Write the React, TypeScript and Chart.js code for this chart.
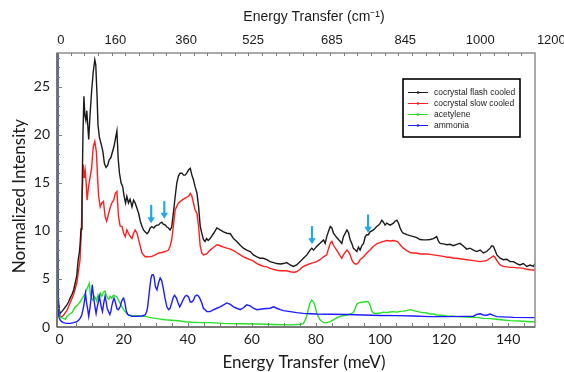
import React, { useEffect, useRef } from 'react';
import { Chart, registerables } from 'chart.js';

Chart.register(...registerables);

const seriesLabels = ['cocrystal flash cooled', 'cocrystal slow cooled', 'acetylene', 'ammonia'];
const seriesColors = ['#1a1a1a', '#ff1f1f', '#27e027', '#1c1cff'];

// [energy transfer (meV), normalized intensity]
const flashCooled: [number, number][] = [
  [-0.75, 29], [-0.6, 8], [-0.4, 3], [-0.1, 1.8], [0.2, 1.43], [0.7, 1.6], [1.2, 1.8], [1.8, 2.1], [2.3, 2.3], [2.8, 2.6],
  [3.3, 3.0], [3.9, 3.4], [4.4, 3.85], [4.9, 4.6], [5.4, 5.4], [5.7, 6.6], [5.9, 7.2], [6.2, 7.8], [6.4, 8.6], [6.7, 10.2],
  [7.0, 13], [7.3, 20], [7.6, 24], [7.9, 22], [8.2, 21.5], [8.5, 22.5], [8.8, 21], [9.1, 19.5], [9.5, 22], [10.0, 24.5],
  [10.5, 26.5], [11.0, 27.8], [11.3, 27.3], [11.7, 24], [12.0, 21], [12.4, 19.8], [13.0, 19], [13.5, 18.3], [14.0, 17], [14.5, 16.6],
  [15.0, 16.8], [15.5, 17.4], [16.0, 17.6], [16.5, 18.2], [17.0, 18.8], [17.5, 19.7], [17.9, 20.4], [18.3, 17.5], [18.7, 16], [19.2, 15],
  [19.7, 14.6], [20.2, 13.5], [20.6, 12.9], [21.0, 13.6], [21.5, 12.9], [22.0, 13.3], [22.6, 12.5], [23.1, 13.2], [23.6, 12.9], [24.2, 12.3],
  [24.7, 11.8], [25.2, 11.0], [25.7, 10.5], [26.2, 10.1], [26.7, 9.9], [27.3, 9.7], [27.8, 9.9], [28.3, 10.3], [28.8, 10.45], [29.4, 10.3],
  [29.9, 10.5], [30.4, 10.6], [30.9, 10.6], [31.4, 10.8], [31.9, 10.9], [32.4, 10.7], [33.0, 10.6], [33.5, 10.4], [34.0, 10.3], [34.5, 10.1],
  [35.0, 10.4], [35.5, 11.8], [36.1, 13.6], [36.6, 15], [37.1, 15.7], [37.6, 16], [38.2, 16], [38.7, 15.8], [39.2, 15.8], [39.7, 16],
  [40.3, 16.35], [40.8, 16.5], [41.3, 15.8], [41.8, 15.3], [42.3, 14.6], [42.9, 13.9], [43.4, 12.5], [43.9, 10.5], [44.4, 9.75], [44.9, 9.1],
  [45.4, 8.9], [45.9, 9.2], [46.4, 9.0], [47.0, 9.2], [48.1, 9.75], [49.1, 10.3], [50.1, 10.1], [51.2, 9.9], [52.2, 9.75], [53.3, 9.7],
  [54.3, 9.2], [55.3, 8.9], [56.4, 8.5], [57.4, 8.2], [58.4, 8.0], [59.5, 7.85], [60.5, 7.5], [61.6, 7.3], [62.6, 7.15], [63.6, 7.15],
  [64.7, 7.0], [65.7, 6.8], [66.8, 6.7], [67.8, 6.6], [68.9, 6.55], [69.9, 6.6], [70.9, 6.7], [72.0, 6.45], [73.0, 6.3], [74.0, 6.45],
  [75.1, 6.8], [76.1, 7.15], [77.2, 7.5], [78.2, 8.0], [78.7, 8.2], [79.3, 8.0], [79.8, 8.2], [80.3, 8.4], [81.3, 8.7], [82.4, 9.06],
  [82.9, 8.7], [83.4, 9.4], [83.9, 9.9], [84.5, 10.45], [85.0, 10.3], [85.5, 9.75], [86.5, 9.3], [87.6, 8.9], [88.1, 8.7], [88.6, 9.4],
  [89.7, 10.1], [90.2, 9.8], [90.7, 9.06], [91.2, 8.7], [91.7, 8.2], [92.3, 8.0], [92.8, 7.85], [93.3, 8.3], [93.8, 8.0], [94.4, 8.5],
  [94.9, 8.7], [95.4, 9.4], [95.9, 9.6], [96.4, 9.6], [96.9, 9.9], [98.0, 10.1], [99.0, 10.45], [99.6, 10.6], [100.1, 10.8], [100.6, 11.1],
  [101.1, 10.9], [101.6, 10.6], [102.1, 10.8], [103.2, 10.6], [104.2, 10.8], [104.7, 11.0], [105.3, 11.1], [105.8, 10.8], [106.3, 10.3], [106.8, 9.95],
  [107.3, 9.75], [108.4, 9.6], [109.4, 9.5], [110.5, 9.4], [111.5, 9.3], [112.5, 9.1], [113.6, 9.06], [114.6, 9.06], [115.7, 9.1], [116.7, 9.2],
  [117.7, 9.4], [118.3, 8.9], [118.8, 8.7], [119.8, 8.65], [120.9, 8.55], [121.9, 8.6], [122.9, 8.45], [124.0, 8.6], [125.0, 8.7], [126.1, 8.4],
  [127.1, 8.1], [128.1, 8.2], [129.2, 8.0], [130.2, 7.85], [131.3, 8.0], [132.3, 7.7], [133.3, 7.85], [134.4, 8.2], [134.9, 8.45], [135.4, 8.4],
  [135.9, 8.0], [136.5, 7.5], [137.5, 7.15], [138.5, 7.0], [139.6, 7.05], [140.6, 6.8], [141.7, 6.8], [142.7, 6.6], [143.7, 6.45], [144.8, 6.6],
  [145.8, 6.3], [146.9, 6.45], [147.9, 6.3], [148.4, 6.6],
];

const slowCooled: [number, number][] = [
  [-0.75, 29], [-0.6, 6], [-0.4, 2.5], [-0.1, 1.5], [0.3, 1.1], [0.7, 1.07], [1.2, 1.2], [1.8, 1.5], [2.3, 1.7], [2.8, 2.1],
  [3.3, 2.5], [3.9, 3.0], [4.4, 3.4], [4.9, 4.0], [5.4, 4.6], [5.9, 5.8], [6.4, 7.0], [6.8, 10], [7.1, 14], [7.4, 16.9],
  [7.7, 15.5], [8.0, 16.3], [8.3, 15], [8.6, 13.2], [9.0, 14.5], [9.5, 15.5], [10.0, 16.5], [10.5, 18.7], [11.0, 19.3], [11.5, 18.2],
  [11.9, 15.3], [12.2, 13.6], [12.7, 12.5], [13.2, 12.9], [13.7, 13.05], [14.2, 11.5], [14.7, 11.0], [15.3, 11.8], [15.8, 12.4], [16.3, 12.9],
  [16.9, 13.2], [17.4, 13.9], [17.9, 14.1], [18.4, 11.5], [18.9, 10.5], [19.5, 10.45], [20.0, 9.75], [20.5, 9.4], [21.0, 10.1], [21.5, 9.75],
  [22.1, 9.4], [22.6, 9.2], [23.1, 9.75], [23.6, 10.1], [24.2, 9.75], [24.7, 9.06], [25.2, 8.4], [25.7, 7.7], [26.7, 7.3], [27.8, 7.3],
  [28.8, 7.35], [29.9, 7.5], [30.9, 7.7], [31.9, 7.75], [33.0, 7.85], [34.0, 8.0], [34.5, 8.4], [35.0, 9.06], [35.5, 10.45], [36.1, 12.2],
  [37.1, 12.9], [38.2, 13.2], [39.2, 13.4], [40.3, 13.6], [40.8, 13.9], [41.3, 13.6], [41.8, 12.9], [42.3, 12.2], [42.9, 11.8], [43.4, 10.45],
  [43.9, 8.4], [44.4, 7.7], [44.9, 7.5], [45.9, 7.6], [47.0, 8.0], [48.1, 8.3], [49.1, 8.55], [50.1, 8.45], [51.2, 8.3], [52.2, 8.2],
  [53.3, 8.1], [54.3, 7.95], [55.3, 7.75], [56.4, 7.5], [57.4, 7.3], [58.4, 7.15], [59.5, 7.0], [60.5, 6.85], [61.6, 6.6], [62.6, 6.45],
  [63.6, 6.3], [64.7, 6.25], [65.7, 6.1], [66.8, 6.0], [67.8, 5.9], [68.9, 5.85], [69.9, 5.85], [70.9, 5.85], [72.0, 5.75], [73.0, 5.7],
  [74.0, 5.75], [75.1, 6.0], [76.1, 6.3], [77.2, 6.45], [78.2, 6.6], [79.3, 6.7], [80.3, 6.8], [81.3, 7.0], [82.4, 7.3], [83.4, 7.5],
  [84.0, 8.2], [84.5, 8.7], [85.0, 8.9], [85.5, 8.5], [86.5, 8.0], [87.6, 7.4], [88.1, 7.15], [88.6, 7.5], [89.7, 8.0], [90.2, 7.8],
  [90.7, 7.5], [91.2, 7.0], [91.7, 6.7], [92.3, 6.55], [92.8, 6.55], [93.3, 6.7], [93.8, 7.0], [94.9, 7.3], [95.9, 7.7], [96.9, 8.0],
  [98.0, 8.4], [99.0, 8.65], [100.1, 8.8], [101.1, 8.9], [102.1, 9.0], [103.2, 8.95], [104.2, 9.0], [105.3, 8.9], [105.8, 8.8], [106.3, 8.55],
  [107.3, 8.2], [108.4, 7.95], [109.4, 7.75], [110.5, 7.7], [111.5, 7.7], [112.5, 7.6], [113.6, 7.6], [114.6, 7.6], [115.7, 7.55], [116.7, 7.5],
  [117.7, 7.45], [118.8, 7.4], [119.8, 7.35], [120.9, 7.25], [121.9, 7.25], [122.9, 7.15], [124.0, 7.15], [125.0, 7.1], [126.1, 7.05], [127.1, 7.0],
  [128.1, 6.95], [129.2, 6.9], [130.2, 6.85], [131.3, 6.8], [132.3, 6.85], [133.3, 6.9], [134.4, 7.15], [135.4, 7.4], [135.9, 7.25], [136.5, 6.9],
  [137.5, 6.45], [138.5, 6.3], [139.6, 6.25], [140.6, 6.2], [141.7, 6.2], [142.7, 6.15], [143.7, 6.15], [144.8, 6.1], [145.8, 6.0], [146.9, 5.95],
  [148.4, 5.9],
];

const acetylene: [number, number][] = [
  [-0.75, 29], [-0.6, 6], [-0.4, 2], [0.2, 1.0], [1.2, 0.9], [1.8, 0.8], [2.3, 1.1], [2.8, 1.25], [3.3, 1.35], [3.9, 1.5],
  [4.4, 1.8], [4.9, 2.1], [5.4, 2.2], [5.9, 2.4], [6.4, 2.6], [6.9, 2.9], [7.5, 3.2], [8.0, 3.5], [8.5, 3.9], [9.1, 4.4],
  [9.3, 4.55], [9.6, 3.4], [10.0, 3.0], [10.4, 2.8], [10.8, 3.2], [11.2, 3.0], [11.6, 2.7], [12.0, 3.3], [12.4, 2.9], [12.8, 3.5],
  [13.2, 3.2], [13.7, 3.6], [14.2, 3.75], [14.6, 3.3], [15.0, 3.0], [15.4, 2.9], [15.8, 3.2], [16.3, 3.0], [16.8, 3.3], [17.4, 3.2],
  [17.9, 3.1], [18.4, 2.8], [19.0, 2.4], [19.5, 2.1], [20.0, 1.8], [20.5, 1.6], [21.0, 1.4], [21.5, 1.25], [22.6, 1.2], [24.7, 1.15],
  [26.7, 1.1], [28.8, 0.95], [30.9, 0.85], [32.9, 0.75], [35.0, 0.7], [37.1, 0.65], [39.2, 0.55], [41.3, 0.5], [44.4, 0.45], [47.0, 0.45],
  [51.2, 0.38], [56.4, 0.34], [61.6, 0.31], [66.8, 0.26], [72.0, 0.22], [75.1, 0.28], [76.1, 0.35], [76.8, 0.8], [77.2, 1.2], [77.7, 1.95],
  [78.2, 2.5], [78.7, 2.8], [79.3, 2.6], [79.8, 2.1], [80.3, 1.4], [81.3, 0.75], [82.4, 0.45], [83.4, 0.45], [84.5, 0.55], [85.5, 0.75],
  [86.5, 0.95], [87.6, 1.1], [89.7, 1.25], [90.7, 1.35], [91.7, 1.5], [92.3, 1.95], [92.8, 2.4], [93.8, 2.55], [94.9, 2.6], [95.9, 2.65],
  [96.4, 2.6], [96.9, 2.3], [97.4, 1.7], [98.0, 1.45], [99.0, 1.4], [100.1, 1.45], [101.1, 1.55], [102.1, 1.5], [103.2, 1.56], [104.2, 1.6],
  [105.3, 1.55], [106.3, 1.63], [107.3, 1.65], [108.4, 1.7], [109.4, 1.8], [110.5, 1.7], [111.5, 1.63], [112.5, 1.55], [113.6, 1.5], [114.6, 1.45],
  [115.7, 1.35], [116.7, 1.35], [117.7, 1.25], [119.8, 1.2], [120.9, 1.15], [122.9, 1.12], [124.0, 1.08], [128.1, 1.02], [130.2, 1.0], [132.3, 0.9],
  [134.4, 0.87], [136.5, 0.8], [138.5, 0.73], [140.6, 0.66], [144.8, 0.6], [146.9, 0.55], [148.4, 0.55],
];

const ammonia: [number, number][] = [
  [-0.75, 29], [-0.6, 5], [-0.4, 1.6], [-0.2, 1.0], [0.2, 0.73], [0.7, 0.55], [1.2, 0.45], [1.8, 0.4], [2.3, 0.38], [3.3, 0.38],
  [4.4, 0.45], [5.4, 0.55], [6.0, 0.73], [6.4, 0.9], [6.9, 1.2], [7.5, 2.1], [7.8, 2.8], [8.1, 3.5], [8.4, 2.6], [8.8, 1.8],
  [9.1, 1.1], [9.5, 2.0], [9.9, 3.2], [10.2, 4.4], [10.6, 3.2], [11.0, 2.2], [11.4, 1.4], [11.7, 2.0], [12.1, 2.6], [12.4, 3.2],
  [12.7, 2.7], [13.0, 2.1], [13.4, 1.6], [13.8, 2.5], [14.2, 3.2], [14.6, 2.5], [14.9, 1.9], [15.3, 1.6], [15.7, 1.3], [16.0, 1.6],
  [16.3, 2.2], [16.7, 2.7], [17.0, 3.0], [17.4, 2.6], [17.9, 1.9], [18.4, 1.8], [18.9, 2.1], [19.3, 2.6], [19.7, 2.9], [20.0, 3.0],
  [20.4, 2.5], [20.8, 1.7], [21.2, 1.35], [21.5, 1.25], [22.6, 1.1], [23.6, 1.1], [25.7, 1.15], [26.7, 1.25], [27.2, 1.6], [27.5, 2.1],
  [27.8, 3.0], [28.2, 4.2], [28.5, 5.0], [28.8, 5.4], [29.2, 5.45], [29.5, 5.2], [29.9, 4.2], [30.4, 3.85], [30.9, 4.6], [31.4, 5.1],
  [31.9, 4.8], [32.4, 4.0], [32.9, 3.0], [33.5, 2.1], [34.0, 1.8], [34.5, 1.95], [35.0, 2.5], [35.5, 3.1], [35.9, 3.3], [36.5, 3.0],
  [37.0, 2.5], [37.5, 2.1], [38.0, 2.4], [38.5, 2.8], [39.2, 3.2], [39.7, 3.3], [40.3, 3.1], [40.8, 2.6], [41.3, 2.6], [41.8, 2.8],
  [42.3, 3.2], [42.9, 3.33], [43.4, 3.2], [43.9, 2.9], [44.4, 2.5], [44.9, 1.95], [46.0, 1.6], [47.0, 1.6], [48.1, 1.8], [49.1, 1.95],
  [50.1, 2.1], [51.2, 2.3], [52.2, 2.5], [53.3, 2.35], [54.3, 2.1], [55.3, 1.95], [56.4, 1.8], [57.4, 2.0], [58.4, 2.3], [59.5, 2.2],
  [60.5, 1.95], [61.6, 1.8], [62.6, 1.85], [63.6, 1.9], [65.7, 1.95], [66.8, 2.1], [67.8, 1.95], [68.9, 1.8], [69.9, 1.7], [72.0, 1.6],
  [74.0, 1.5], [76.1, 1.42], [78.2, 1.38], [80.3, 1.35], [84.5, 1.33], [89.7, 1.3], [94.9, 1.25], [100.1, 1.2], [105.3, 1.18], [110.5, 1.15],
  [115.7, 1.08], [120.9, 1.08], [126.1, 1.1], [129.2, 1.12], [130.2, 1.3], [131.3, 1.38], [132.3, 1.25], [133.3, 1.22], [134.4, 1.35], [135.4, 1.2],
  [136.5, 1.08], [141.7, 1.0], [148.4, 0.97],
];

const seriesData = [flashCooled, slowCooled, acetylene, ammonia];

const xMin = -0.8;
const xMax = 148.4;
const yMin = 0;
const yMax = 28.5;

const bottomTickValues = [0, 20, 40, 60, 80, 100, 120, 140];
const leftTickValues = [0, 5, 10, 15, 20, 25];

// top axis: wavenumber labels and where they sit on the meV scale
const topTickLabels = ['0', '160', '360', '525', '685', '845', '1000', '1200'];
const topTickMeV = [0.4, 17.4, 39.5, 60.4, 85.0, 107.9, 131.3, 153.5];

// annotation arrows (energy, tail intensity, tip intensity)
const arrowE = [28.6, 32.7, 78.8, 96.3];
const arrowTail = [12.7, 13.1, 10.5, 11.7];
const arrowTip = [10.8, 11.25, 8.6, 9.8];

const bottomTitle = 'Energy Transfer (meV)';
const topTitle = 'Energy Transfer (cm\u207B\u00B9)';
const leftTitle = 'Normalized Intensity';

const TICK_FONT = 'Lato, "Noto Sans", sans-serif';
const ARIAL = '"Liberation Sans", Arial, sans-serif';

const decorPlugin = {
  id: 'decor',
  afterDatasetsDraw(chart: any) {
    const { ctx, chartArea: a, scales } = chart;
    const x = scales.x;
    const y = scales.y;
    ctx.save();
    // arrows
    const ac = '#22a9e6';
    ctx.strokeStyle = ac;
    ctx.fillStyle = ac;
    ctx.lineWidth = 2.2;
    arrowE.forEach((e, i) => {
      const px = x.getPixelForValue(e);
      const y0 = y.getPixelForValue(arrowTail[i]);
      const y1 = y.getPixelForValue(arrowTip[i]);
      ctx.beginPath();
      ctx.moveTo(px, y0);
      ctx.lineTo(px, y1 - 5);
      ctx.stroke();
      ctx.beginPath();
      ctx.moveTo(px - 3.8, y1 - 6);
      ctx.lineTo(px + 3.8, y1 - 6);
      ctx.lineTo(px, y1);
      ctx.closePath();
      ctx.fill();
    });
    // frame
    ctx.strokeStyle = '#8e8e8e';
    ctx.lineWidth = 1.5;
    ctx.strokeRect(a.left, a.top, a.right - a.left, a.bottom - a.top);
    ctx.strokeStyle = '#6a6a6a';
    ctx.beginPath();
    ctx.moveTo(a.left, a.bottom);
    ctx.lineTo(a.right, a.bottom);
    ctx.moveTo(a.left, a.top);
    ctx.lineTo(a.left, a.bottom);
    ctx.stroke();
    // inward ticks
    ctx.lineWidth = 1;
    ctx.strokeStyle = '#5a5a5a';
    ctx.beginPath();
    for (let v = 5; v < xMax; v += 5) {
      const px = Math.round(x.getPixelForValue(v)) + 0.5;
      ctx.moveTo(px, a.bottom);
      ctx.lineTo(px, a.bottom - 4);
    }
    for (let v = 1; v < yMax; v += 1) {
      const py = Math.round(y.getPixelForValue(v)) + 0.5;
      ctx.moveTo(a.left, py);
      ctx.lineTo(a.left + (v % 5 === 0 ? 5 : 3), py);
    }
    const topStep = (a.right - a.left) / 35;
    ctx.strokeStyle = '#7a7a7a';
    for (let i = 1; i < 35; i++) {
      const px = Math.round(a.left + i * topStep) + 0.5;
      ctx.moveTo(px, a.top);
      ctx.lineTo(px, a.top + 3);
    }
    ctx.stroke();
    ctx.restore();
  },
  afterDraw(chart: any) {
    const { ctx, chartArea: a } = chart;
    ctx.save();
    // axis titles
    ctx.fillStyle = '#1a1a1a';
    ctx.textAlign = 'center';
    ctx.textBaseline = 'middle';
    ctx.font = `17px ${TICK_FONT}`;
    ctx.fillText(bottomTitle, (a.left + a.right) / 2 + 8, 363);
    ctx.save();
    ctx.translate(20, (a.top + a.bottom) / 2 + 6);
    ctx.rotate(-Math.PI / 2);
    ctx.fillText(leftTitle, 0, 0);
    ctx.restore();
    ctx.font = `14px ${ARIAL}`;
    ctx.fillText(topTitle, (a.left + a.right) / 2 + 18, 17);
    // legend
    const lx = a.right - 132;
    const ly = a.top + 26;
    const lw = 117;
    const lh = 58;
    ctx.strokeStyle = '#000';
    ctx.lineWidth = 1.6;
    ctx.strokeRect(lx, ly, lw, lh);
    ctx.font = `8.5px ${ARIAL}`;
    ctx.textAlign = 'left';
    chart.data.datasets.forEach((ds: any, i: number) => {
      const ry = ly + 13.5 + i * 11;
      ctx.strokeStyle = ds.borderColor;
      ctx.lineWidth = 1;
      ctx.beginPath();
      ctx.moveTo(lx + 5, ry);
      ctx.lineTo(lx + 25, ry);
      ctx.stroke();
      ctx.fillStyle = ds.borderColor;
      ctx.beginPath();
      ctx.arc(lx + 15, ry, 1.2, 0, Math.PI * 2);
      ctx.fill();
      ctx.fillStyle = '#1a1a1a';
      ctx.fillText(ds.label, lx + 31, ry);
    });
    ctx.restore();
  },
};

export default function App() {
  const canvasRef = useRef<HTMLCanvasElement | null>(null);

  useEffect(() => {
    document.body.style.margin = '0';
    const canvas = canvasRef.current;
    if (!canvas) return;
    const drawOrder = [2, 3, 1, 0];
    const chart = new Chart(canvas, {
      type: 'line',
      data: {
        datasets: seriesData.map((s, i) => ({
          label: seriesLabels[i],
          data: s.map(([e, v]) => ({ x: e, y: v })),
          borderColor: seriesColors[i],
          backgroundColor: seriesColors[i],
          borderWidth: 1.4,
          pointRadius: 0,
          tension: 0,
          fill: false,
          order: drawOrder[i],
        })),
      },
      options: {
        animation: false,
        responsive: false,
        maintainAspectRatio: false,
        layout: { padding: { left: 0, right: 29, top: 0, bottom: 0 } },
        plugins: { legend: { display: false }, tooltip: { enabled: false } },
        scales: {
          x: {
            type: 'linear',
            position: 'bottom',
            min: xMin,
            max: xMax,
            afterBuildTicks: (s: any) => {
              s.ticks = bottomTickValues.map((v) => ({ value: v }));
            },
            afterFit: (s: any) => {
              s.height = 45;
              s.paddingLeft = 0;
              s.paddingRight = 0;
            },
            grid: { display: false, drawTicks: false },
            border: { display: false },
            ticks: {
              autoSkip: false,
              maxRotation: 0,
              padding: 4,
              color: '#1a1a1a',
              font: { family: TICK_FONT, size: 14 },
            },
          },
          x2: {
            type: 'linear',
            position: 'top',
            min: xMin,
            max: xMax,
            afterBuildTicks: (s: any) => {
              s.ticks = topTickMeV.map((v) => ({ value: v }));
            },
            afterFit: (s: any) => {
              s.height = 53;
              s.paddingLeft = 0;
              s.paddingRight = 0;
            },
            grid: { display: false, drawTicks: false },
            border: { display: false },
            ticks: {
              autoSkip: false,
              maxRotation: 0,
              padding: 5,
              color: '#1a1a1a',
              font: { family: ARIAL, size: 13 },
              callback: (_v: any, i: number) => topTickLabels[i],
            },
          },
          y: {
            type: 'linear',
            position: 'left',
            min: yMin,
            max: yMax,
            afterBuildTicks: (s: any) => {
              s.ticks = leftTickValues.map((v) => ({ value: v }));
            },
            afterFit: (s: any) => {
              s.width = 57;
            },
            grid: { display: false, drawTicks: false },
            border: { display: false },
            ticks: {
              padding: 7,
              color: '#1a1a1a',
              font: { family: TICK_FONT, size: 14 },
            },
          },
        },
      } as any,
      plugins: [decorPlugin],
    });
    return () => chart.destroy();
  }, []);

  return (
    <div style={{ width: 564, height: 372 }}>
      <canvas ref={canvasRef} width={564} height={372} style={{ display: 'block' }} />
    </div>
  );
}
